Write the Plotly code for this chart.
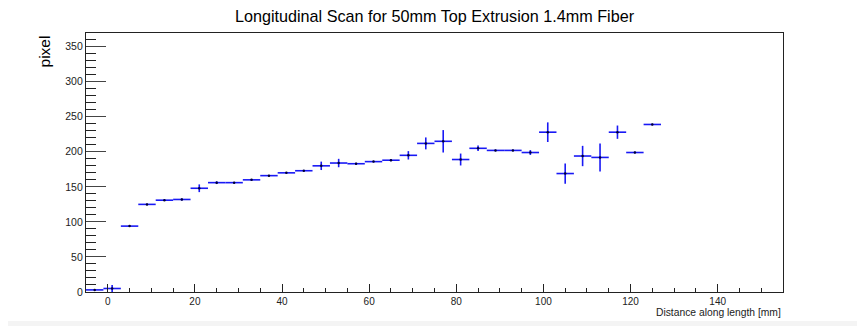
import plotly.graph_objects as go

# ---- data ----
bin_centers = [-3, 1, 5, 9, 13, 17, 21, 25, 29, 33, 37, 41, 45, 49, 53, 57, 61, 65,
               69, 73, 77, 81, 85, 89, 93, 97, 101, 105, 109, 113, 117, 121, 125]
pixel_values = [3, 5, 94, 125, 131, 132, 148, 156, 156, 160, 166, 170, 173, 180, 184, 183,
                186, 188, 195, 212, 215, 189, 205, 202, 202, 199, 228, 169, 194, 192,
                228, 199, 239]
pixel_errors = [0.5, 5, 1, 1, 1, 1.5, 5.5, 2, 1, 1, 1, 1, 1, 6, 6, 1.5, 1, 1.5, 6, 8.5,
                16, 8.5, 4, 1, 1, 3.5, 14, 14.5, 14.5, 20, 9.5, 1, 1]
bin_half_width = [2] * len(bin_centers)

x_tick_vals = [0, 20, 40, 60, 80, 100, 120, 140]
y_tick_vals = [0, 50, 100, 150, 200, 250, 300, 350]

title_text = "Longitudinal Scan for 50mm Top Extrusion 1.4mm Fiber"
x_title = "Distance along length [mm]"
y_title = "pixel"

FONT = "Liberation Sans, Arial, Helvetica, sans-serif"
BLUE = "rgb(25,25,245)"

# the page body adds an 8px offset; work in figure coordinates
OFF = 8
W, H = 865 - OFF, 326 - OFF
L, T = 86 - OFF, 32.5 - OFF
R, B = W - (783 - OFF), H - (292 - OFF)
pw, ph = W - L - R, H - T - B


def py(y_img):
    """paper y for a reference-image pixel row"""
    return 1 - ((y_img - OFF) - T) / ph


def px(x_img):
    return ((x_img - OFF) - L) / pw


fig = go.Figure()
fig.add_trace(go.Scatter(
    x=bin_centers, y=pixel_values, mode="markers",
    marker=dict(size=2.5, color="#000033"),
    error_x=dict(type="data", array=bin_half_width, color=BLUE, thickness=1.6, width=0),
    error_y=dict(type="data", array=pixel_errors, color=BLUE, thickness=1.6, width=0),
    showlegend=False, hoverinfo="x+y",
))

fig.update_layout(
    width=W, height=H,
    margin=dict(l=L, r=R, t=T, b=B, pad=0, autoexpand=False),
    paper_bgcolor="white", plot_bgcolor="white",
    font=dict(family=FONT, color="black"),
    title=dict(text=title_text, x=0.5, xanchor="center", xref="paper",
               y=1, yanchor="top", yref="container", pad=dict(t=3),
               font=dict(size=16.2, family=FONT, color="black")),
    xaxis=dict(range=[-5, 155], showgrid=False, zeroline=False, automargin=False,
               showline=True, linecolor="#222", linewidth=1.2, mirror=True,
               tickmode="array", tickvals=x_tick_vals,
               ticks="inside", ticklen=8, tickcolor="#222", tickwidth=1.2,
               minor=dict(dtick=5, tick0=0, ticks="inside", ticklen=4,
                          tickcolor="#222", tickwidth=1.2),
               tickfont=dict(size=10, family=FONT, color="#222")),
    yaxis=dict(range=[0, 369.5], showgrid=False, zeroline=False, automargin=False,
               showline=True, linecolor="#222", linewidth=1.2, mirror=True,
               tickmode="array", tickvals=y_tick_vals,
               ticks="inside", ticklen=20, tickcolor="#444", tickwidth=1.2,
               minor=dict(dtick=10, tick0=0, ticks="inside", ticklen=10,
                          tickcolor="#222", tickwidth=1.2),
               tickfont=dict(size=10.5, family=FONT, color="#222")),
)

fig.add_annotation(text=x_title, xref="paper", yref="paper",
                   x=1, xanchor="right", y=py(312.5), yanchor="middle",
                   showarrow=False, font=dict(size=10.3, family=FONT, color="#222"))
fig.add_annotation(text=y_title, xref="paper", yref="paper",
                   x=px(44), xanchor="center",
                   y=py(51), yanchor="middle", textangle=-90,
                   showarrow=False, font=dict(size=15.5, family=FONT, color="black"))

# light gray strip at the very bottom of the image
fig.add_shape(type="rect", xref="paper", yref="paper",
              x0=px(0), x1=px(866),
              y0=py(327), y1=py(321),
              fillcolor="#f4f4f4", line=dict(width=0), layer="below")

fig.write_html("out.html")
